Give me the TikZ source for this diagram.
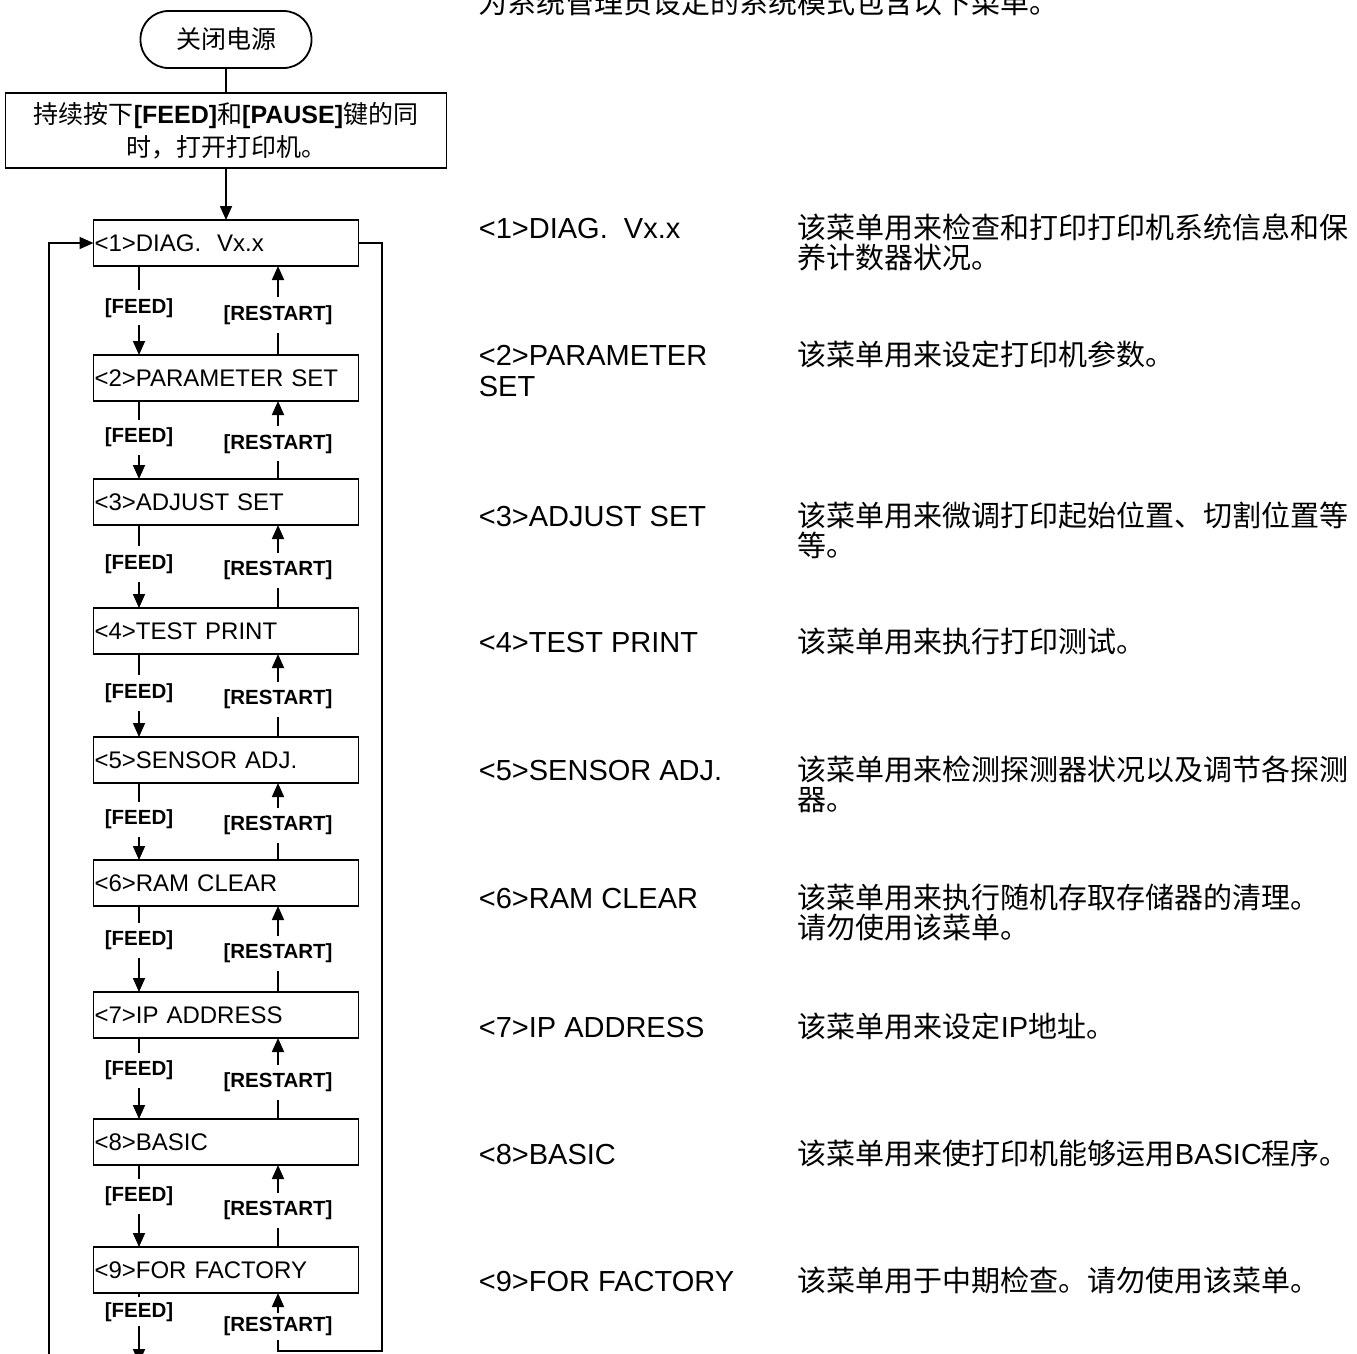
\documentclass[tikz,border=0pt]{standalone}
\usepackage{fontspec}
\setmainfont{Liberation Sans}
\newfontfamily\cjk{Noto Sans CJK SC}
\usetikzlibrary{arrows.meta, positioning}

\begin{document}
\begin{tikzpicture}[
  x=1pt, y=-1pt,
  line width=1.8pt,
  term/.style={rectangle, rounded corners=28pt, draw, outer sep=0pt, minimum width=171pt,
               minimum height=57pt, font=\cjk\fontsize{25}{30}\selectfont},
  startbox/.style={rectangle, draw, outer sep=0pt, minimum width=441pt, minimum height=75pt,
                   text width=433pt, align=center, font=\fontsize{25}{33}\selectfont},
  menu/.style={rectangle, draw, outer sep=0pt, minimum height=46pt, text width=263pt, inner xsep=1pt,
               align=left, font=\fontsize{24}{28}\selectfont},
  lbl/.style={fill=white, inner xsep=1pt, inner ysep=8pt, font=\bfseries\fontsize{20.5}{24}\selectfont},
  item/.style={anchor=base west, inner sep=0pt, align=left, font=\fontsize{29}{31}\selectfont},
  note/.style={anchor=base west, inner sep=0pt, align=left, font=\cjk\fontsize{29}{30}\selectfont},
  arr/.style={-{Triangle[length=14pt, width=12pt]}, line width=1.8pt}
]
\useasboundingbox (0,0) rectangle (1357,1353);

% left column: flow chart
\node[term] (off) at (226,39.5) {关闭电源};
\node[startbox, below=25pt of off] (start)
  {{\cjk 持续按下}\textbf{[FEED]}{\cjk 和}\textbf{[PAUSE]}{\cjk 键的同}\\{\cjk 时，打开打印机。}};
\node[menu, below=52pt of start]   (diag)    {<1>DIAG.\ \ Vx.x};
\node[menu, below=89pt of diag]    (param)   {<2>PARAMETER SET};
\node[menu, below=78pt of param]   (adjust)  {<3>ADJUST SET};
\node[menu, below=83pt of adjust]  (testp)   {<4>TEST PRINT};
\node[menu, below=83pt of testp]   (sensor)  {<5>SENSOR ADJ.};
\node[menu, below=77pt of sensor]  (ramclr)  {<6>RAM CLEAR};
\node[menu, below=86pt of ramclr]  (ipaddr)  {<7>IP ADDRESS};
\node[menu, below=81pt of ipaddr]  (basic)   {<8>BASIC};
\node[menu, below=82pt of basic]   (factory) {<9>FOR FACTORY};

\coordinate (fx) at (139,0);
\coordinate (rx) at (278,0);
\coordinate (rb) at (382,1351);
\coordinate (lb) at (49,1363);
\coordinate (feedend) at (139,1363);

\draw (off) -- (start);
\draw[arr] (start) -- (diag);

\draw[arr] (diag.south -| fx)    -- node[lbl, pos=0.47]{[FEED]} (param.north -| fx);
\draw[arr] (param.south -| fx)   -- node[lbl, pos=0.47]{[FEED]} (adjust.north -| fx);
\draw[arr] (adjust.south -| fx)  -- node[lbl, pos=0.47]{[FEED]} (testp.north -| fx);
\draw[arr] (testp.south -| fx)   -- node[lbl, pos=0.47]{[FEED]} (sensor.north -| fx);
\draw[arr] (sensor.south -| fx)  -- node[lbl, pos=0.47]{[FEED]} (ramclr.north -| fx);
\draw[arr] (ramclr.south -| fx)  -- node[lbl, pos=0.40]{[FEED]} (ipaddr.north -| fx);
\draw[arr] (ipaddr.south -| fx)  -- node[lbl, pos=0.40]{[FEED]} (basic.north -| fx);
\draw[arr] (basic.south -| fx)   -- node[lbl, pos=0.38]{[FEED]} (factory.north -| fx);
\draw[arr] (factory.south -| fx) -- node[lbl, pos=0.27, inner ysep=5pt]{[FEED]} (feedend);

\draw[arr] (param.north -| rx)   -- node[lbl, pos=0.45]{[RESTART]} (diag.south -| rx);
\draw[arr] (adjust.north -| rx)  -- node[lbl, pos=0.45]{[RESTART]} (param.south -| rx);
\draw[arr] (testp.north -| rx)   -- node[lbl, pos=0.45]{[RESTART]} (adjust.south -| rx);
\draw[arr] (sensor.north -| rx)  -- node[lbl, pos=0.45]{[RESTART]} (testp.south -| rx);
\draw[arr] (ramclr.north -| rx)  -- node[lbl, pos=0.45]{[RESTART]} (sensor.south -| rx);
\draw[arr] (ipaddr.north -| rx)  -- node[lbl, pos=0.45]{[RESTART]} (ramclr.south -| rx);
\draw[arr] (basic.north -| rx)   -- node[lbl, pos=0.45]{[RESTART]} (ipaddr.south -| rx);
\draw[arr] (factory.north -| rx) -- node[lbl, pos=0.45]{[RESTART]} (basic.south -| rx);
\draw[arr] (diag.east) -| (rb) -- (rb -| rx) -- node[lbl, pos=0.43, inner ysep=4pt]{[RESTART]} (factory.south -| rx);

\draw[arr] (lb) |- (diag.west);

% right column: menu descriptions
\node[note] (head) at (478,13) {为系统管理员设定的系统模式包含以下菜单。};

\node[item] (t1) at (478,238)  {<1>DIAG.\ \ Vx.x};
\node[note] (n1) at (797,268)  {该菜单用来检查和打印打印机系统信息和保\\养计数器状况。};
\node[item] (t2) at (478,396)  {<2>PARAMETER\\SET};
\node[note] (n2) at (797,365)  {该菜单用来设定打印机参数。};
\node[item] (t3) at (478,526)  {<3>ADJUST SET};
\node[note] (n3) at (797,556)  {该菜单用来微调打印起始位置、切割位置等\\等。};
\node[item] (t4) at (478,652)  {<4>TEST PRINT};
\node[note] (n4) at (797,652)  {该菜单用来执行打印测试。};
\node[item] (t5) at (478,780)  {<5>SENSOR ADJ.};
\node[note] (n5) at (797,810)  {该菜单用来检测探测器状况以及调节各探测\\器。};
\node[item] (t6) at (478,908)  {<6>RAM CLEAR};
\node[note] (n6) at (797,938)  {该菜单用来执行随机存取存储器的清理。\\请勿使用该菜单。};
\node[item] (t7) at (478,1037) {<7>IP ADDRESS};
\node[note] (n7) at (797,1037) {该菜单用来设定{\normalfont\fontsize{29}{30}\selectfont IP}地址。};
\node[item] (t8) at (478,1164) {<8>BASIC};
\node[note] (n8) at (797,1164) {该菜单用来使打印机能够运用{\normalfont\fontsize{29}{30}\selectfont BASIC}程序。};
\node[item] (t9) at (478,1291) {<9>FOR FACTORY};
\node[note] (n9) at (797,1291) {该菜单用于中期检查。请勿使用该菜单。};
\end{tikzpicture}
\end{document}
